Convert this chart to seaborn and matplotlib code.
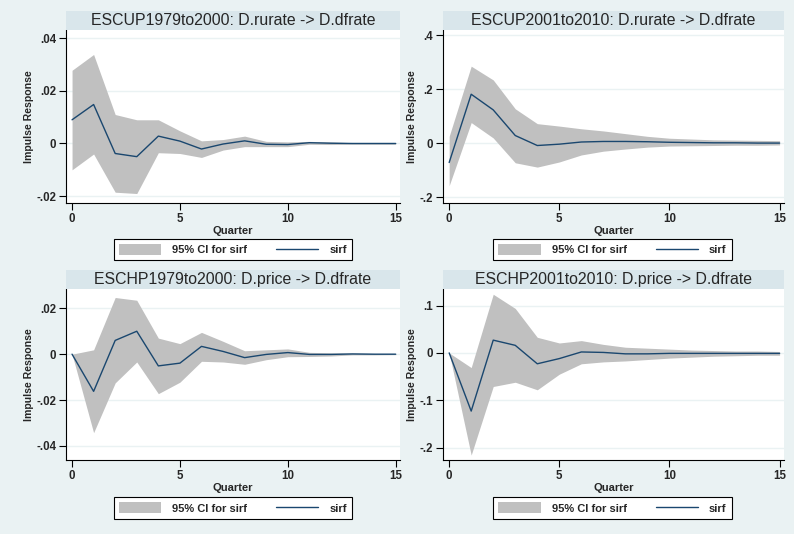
import numpy as np
import pandas as pd
import matplotlib
matplotlib.use("Agg")
import matplotlib.pyplot as plt
import seaborn as sns
from matplotlib.patches import Rectangle, Patch
from matplotlib.lines import Line2D

sns.set_theme(style="white")
plt.rcParams['font.family'] = ['Liberation Sans', 'DejaVu Sans']

quarter = list(range(16))

titles = ["ESCUP1979to2000: D.rurate -> D.dfrate",
          "ESCUP2001to2010: D.rurate -> D.dfrate",
          "ESCHP1979to2000: D.price -> D.dfrate",
          "ESCHP2001to2010: D.price -> D.dfrate"]

# Panel 1
irf1 = [0.009, 0.0148, -0.0038, -0.005, 0.0028, 0.0009, -0.0021, -0.0002, 0.001, -0.0003, -0.0004, 0.0003, 0.0001, 0.0, 0.0, 0.0]
lo1 = [-0.010, -0.004, -0.0185, -0.019, -0.0035, -0.0038, -0.0053, -0.0025, -0.0012, -0.0012, -0.0012, -0.0003, -0.0004, -0.0003, -0.0003, -0.0003]
hi1 = [0.0278, 0.0338, 0.011, 0.009, 0.009, 0.0048, 0.001, 0.0015, 0.0028, 0.0008, 0.0006, 0.0008, 0.0006, 0.0003, 0.0003, 0.0003]
# Panel 2
irf2 = [-0.072, 0.181, 0.123, 0.028, -0.009, -0.004, 0.004, 0.006, 0.006, 0.005, 0.003, 0.002, 0.001, 0.001, 0.0, 0.0]
lo2 = [-0.158, 0.076, 0.019, -0.073, -0.089, -0.070, -0.044, -0.030, -0.022, -0.015, -0.011, -0.010, -0.009, -0.008, -0.008, -0.007]
hi2 = [0.025, 0.285, 0.234, 0.127, 0.072, 0.063, 0.053, 0.045, 0.035, 0.025, 0.018, 0.015, 0.012, 0.011, 0.010, 0.009]
# Panel 3
irf3 = [0.0, -0.0162, 0.006, 0.010, -0.0051, -0.0039, 0.0034, 0.0012, -0.0015, -0.0001, 0.0007, -0.0001, -0.0001, 0.0001, 0.0, 0.0]
lo3 = [0.0, -0.0342, -0.0125, -0.0034, -0.0172, -0.0122, -0.0031, -0.0034, -0.0044, -0.0024, -0.0011, -0.001, -0.0008, -0.0003, -0.0003, -0.0002]
hi3 = [0.0, 0.0019, 0.0247, 0.0235, 0.007, 0.0046, 0.0095, 0.0056, 0.0015, 0.0019, 0.0023, 0.0008, 0.0006, 0.0005, 0.0003, 0.0002]
# Panel 4
irf4 = [0.0, -0.123, 0.027, 0.016, -0.023, -0.012, 0.002, 0.001, -0.002, -0.002, -0.001, -0.001, -0.001, -0.001, -0.001, -0.001]
lo4 = [0.0, -0.216, -0.071, -0.062, -0.078, -0.045, -0.023, -0.019, -0.017, -0.014, -0.011, -0.009, -0.007, -0.006, -0.005, -0.005]
hi4 = [0.0, -0.031, 0.124, 0.094, 0.033, 0.021, 0.026, 0.018, 0.012, 0.010, 0.008, 0.006, 0.005, 0.004, 0.004, 0.003]

yticks = [[0.04, 0.02, 0.0, -0.02], [0.4, 0.2, 0.0, -0.2],
          [0.02, 0.0, -0.02, -0.04], [0.1, 0.0, -0.1, -0.2]]
yticklabels = [[".04", ".02", "0", "-.02"], [".4", ".2", "0", "-.2"],
               [".02", "0", "-.02", "-.04"], [".1", "0", "-.1", "-.2"]]
ylims = [(-0.0226, 0.0431), (-0.222, 0.419), (-0.0461, 0.0284), (-0.2264, 0.1351)]
xticks = [0, 5, 10, 15]

series = [(irf1, lo1, hi1), (irf2, lo2, hi2), (irf3, lo3, hi3), (irf4, lo4, hi4)]

BG = "#EAF2F3"
BAND = "#D9E6EB"
FILL = "#C0C0C0"
NAVY = "#1A476F"

W, H = 794, 534
fig = plt.figure(figsize=(W / 100, H / 100), dpi=100, facecolor=BG)

# axes rects in pixels: (left, top, right, bottom)
rects = [(66, 30, 400, 203), (443, 30, 784, 203),
         (66, 289, 400, 460), (443, 289, 784, 460)]
legend_rects = [(115, 238, 351, 261), (495, 238, 730, 261),
                (115, 497, 351, 519), (495, 497, 730, 519)]

for i, (l, t, r, b) in enumerate(rects):
    ax = fig.add_axes([l / W, 1 - b / H, (r - l) / W, (b - t) / H])
    ax.set_facecolor("white")
    irf, lo, hi = series[i]
    df = pd.DataFrame({"Quarter": quarter, "sirf": irf, "lo": lo, "hi": hi})
    for yv in yticks[i]:
        ax.axhline(yv, color=BG, lw=1.0, zorder=0)
    ax.fill_between(df["Quarter"], df["lo"], df["hi"], color=FILL, lw=0, zorder=1)
    sns.lineplot(data=df, x="Quarter", y="sirf", ax=ax, color=NAVY, lw=1.0, zorder=2)
    ax.set_xlim(-0.28, 15.2)
    ax.set_ylim(*ylims[i])
    ax.set_yticks(yticks[i])
    ax.set_yticklabels(yticklabels[i], fontsize=8.3, fontweight="bold")
    ax.set_xticks(xticks)
    ax.set_xticklabels([str(x) for x in xticks], fontsize=8.3, fontweight="bold")
    ax.tick_params(axis="both", direction="out", length=5, width=0.8, color="black",
                   pad=2, left=True, bottom=True)
    for s in ["top", "right"]:
        ax.spines[s].set_visible(False)
    for s in ["left", "bottom"]:
        ax.spines[s].set_color("black")
        ax.spines[s].set_linewidth(0.8)
    ax.set_xlabel("Quarter", fontsize=8, fontweight="bold", labelpad=1)
    ax.set_ylabel("Impulse Response", fontsize=7.6, fontweight="bold", labelpad=2)
    # title band
    band = Rectangle(((l) / W, 1 - t / H), (r - l) / W, 19 / H, transform=fig.transFigure,
                     facecolor=BAND, edgecolor="none", zorder=0)
    fig.patches.append(band)
    fig.text((l + r) / 2 / W, 1 - (t - 9.5) / H, titles[i], ha="center", va="center",
             fontsize=11.4)
    # legend
    ll, lt, lr, lb = legend_rects[i]
    handles = [Patch(facecolor=FILL, edgecolor="none"),
               Line2D([0], [0], color=NAVY, lw=1.0)]
    leg = fig.legend(handles, ["95% CI for sirf", "sirf"], ncol=2,
                     loc="center", bbox_to_anchor=((ll + lr) / 2 / W, 1 - (lt + lb) / 2 / H),
                     bbox_transform=fig.transFigure,
                     prop={"weight": "bold", "size": 8},
                     frameon=True, fancybox=False, edgecolor="black", facecolor="white",
                     framealpha=1, handlelength=3.8, handleheight=1.1, columnspacing=2.6,
                     handletextpad=1.0, borderpad=0.45)
    leg.get_frame().set_linewidth(0.8)

fig.savefig("out.png", dpi=100, facecolor=BG)
